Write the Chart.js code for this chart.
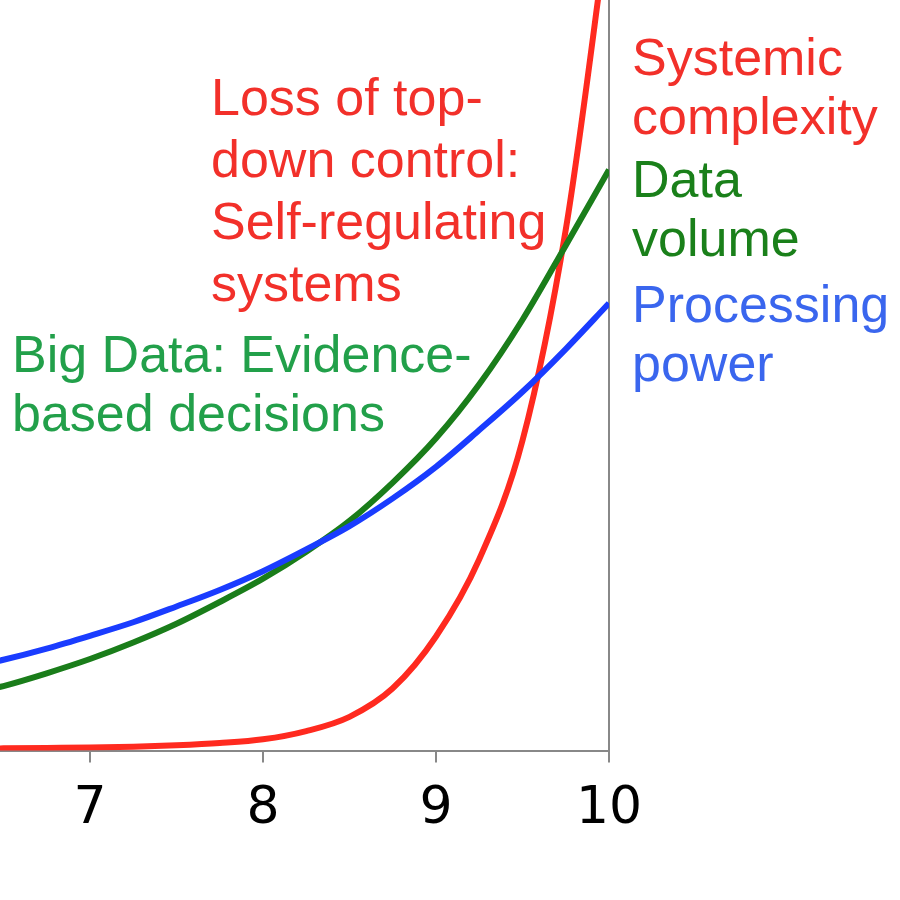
<!DOCTYPE html>
<html>
<head>
<meta charset="utf-8">
<script src="https://cdn.jsdelivr.net/npm/chart.js@4.4.0/dist/chart.umd.min.js"></script>
<style>
  html, body { margin: 0; padding: 0; background: #fff; }
  canvas { display: block; }
</style>
</head>
<body>
<canvas id="myChart" width="900" height="900"></canvas>
<script>
// values (y in arbitrary units, 0 = bottom axis, 100 = top edge)
var xValues = [6.25, 6.5, 6.75, 7, 7.25, 7.5, 7.75, 8, 8.25, 8.5, 8.75, 9, 9.25, 9.5, 9.75, 10];
var complexity = [0.25, 0.3, 0.35, 0.4, 0.5, 0.7, 1.0, 1.5, 2.6, 4.5, 8.3, 15.2, 25.5, 41.3, 69.4, 111];
var dataVolume = [7.2, 8.6, 10.3, 12.2, 14.4, 16.9, 19.8, 22.9, 26.5, 30.6, 35.7, 41.6, 48.8, 57.4, 67.3, 77.4];
var processingPower = [10.8, 12.1, 13.6, 15.3, 17.1, 19.2, 21.4, 23.9, 26.8, 29.9, 33.6, 37.8, 42.7, 47.8, 53.5, 59.6];
var tickValues = [7, 8, 9, 10];

var middleText = ["Loss of top-", "down control:", "Self-regulating", "systems"];
var leftText = ["Big Data: Evidence-", "based decisions"];
var complexityLabel = ["Systemic", "complexity"];
var volumeLabel = ["Data", "volume"];
var powerLabel = ["Processing", "power"];

function toPoints(values) {
  return xValues.map(function (x, i) { return { x: x, y: values[i] }; });
}

function series(values, color) {
  return {
    data: toPoints(values),
    borderColor: color,
    borderWidth: 6,
    pointRadius: 0,
    fill: false,
    cubicInterpolationMode: 'monotone'
  };
}

// draws the free text blocks
var textPlugin = {
  id: 'textBlocks',
  afterDraw: function (chart) {
    var ctx = chart.ctx;
    ctx.save();
    ctx.font = '52px "Liberation Sans", Arial, sans-serif';
    ctx.textAlign = 'left';
    ctx.textBaseline = 'alphabetic';
    function block(lines, x, y, step, color) {
      ctx.fillStyle = color;
      for (var i = 0; i < lines.length; i++) {
        ctx.fillText(lines[i], x, y + i * step);
      }
    }
    block(middleText, 211, 115, 62, '#f2302a');
    block(leftText, 12, 372, 59, '#22a04a');
    block(complexityLabel, 632, 75, 59, '#f2302a');
    block(volumeLabel, 632, 197, 59, '#1a801a');
    block(powerLabel, 632, 322, 59, '#3a66ee');
    ctx.restore();
  }
};

var ctx = document.getElementById("myChart").getContext('2d');
var chart = new Chart(ctx, {
  type: 'line',
  data: {
    datasets: [
      series(processingPower, '#1a3cff'),
      series(dataVolume, '#1a7d1a'),
      series(complexity, '#ff2a1f')
    ]
  },
  options: {
    responsive: false,
    animation: false,
    layout: {
      padding: { left: 0, top: 0, right: 283, bottom: 43 }
    },
    plugins: {
      legend: { display: false },
      tooltip: { enabled: false }
    },
    scales: {
      x: {
        type: 'linear',
        min: 6.48,
        max: 10,
        afterBuildTicks: function (scale) {
          scale.ticks = tickValues.map(function (v) { return { value: v }; });
        },
        ticks: {
          color: '#000',
          font: { family: '"DejaVu Sans", sans-serif', size: 52 },
          padding: 16,
          maxRotation: 0,
          autoSkip: false
        },
        grid: {
          drawOnChartArea: false,
          drawTicks: true,
          tickLength: 12,
          color: '#888',
          lineWidth: 2
        },
        border: { color: '#888', width: 2 }
      },
      y: {
        position: 'right',
        min: 0,
        max: 100,
        ticks: { display: false },
        grid: { display: false },
        border: { color: '#888', width: 2 }
      }
    }
  },
  plugins: [textPlugin]
});
</script>
</body>
</html>
